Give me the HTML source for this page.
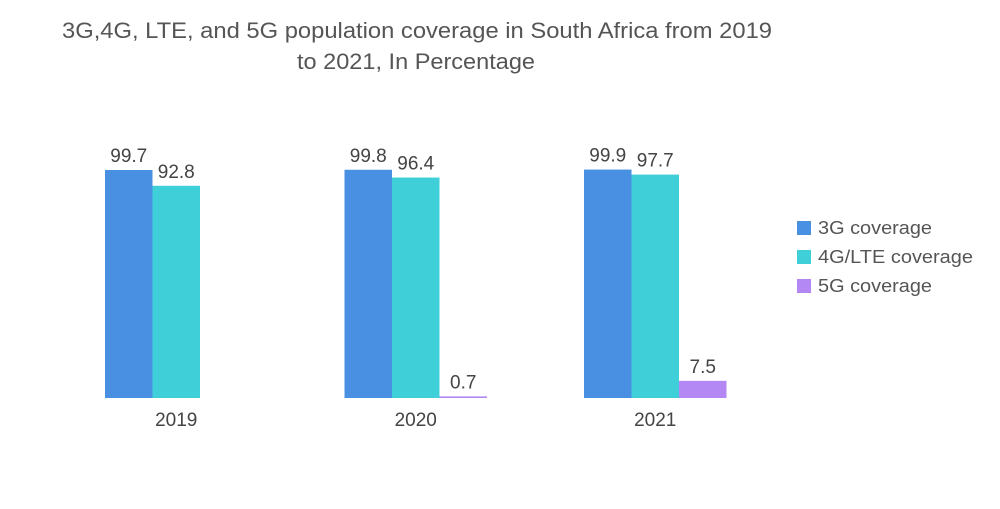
<!DOCTYPE html>
<html><head><meta charset="utf-8"><style>
body{margin:0;background:#fff;width:1000px;height:504px;overflow:hidden;font-family:"Liberation Sans",sans-serif;}
text{font-family:"Liberation Sans",sans-serif;}
</style></head><body>
<svg id="chart" width="1000" height="504" xmlns="http://www.w3.org/2000/svg">
<text x="62" y="38" font-size="22" fill="#555" textLength="710" lengthAdjust="spacingAndGlyphs">3G,4G, LTE, and 5G population coverage in South Africa from 2019</text>
<text x="297" y="69" font-size="22" fill="#555" textLength="238" lengthAdjust="spacingAndGlyphs">to 2021, In Percentage</text>
<g id="bars"></g>
<g>
<rect x="797" y="221" width="14" height="14" fill="#4a90e2"/>
<text x="818" y="234" font-size="18" fill="#555" textLength="114" lengthAdjust="spacingAndGlyphs">3G coverage</text>
<rect x="797" y="250" width="14" height="14" fill="#3ecfd8"/>
<text x="818" y="263" font-size="18" fill="#555" textLength="155" lengthAdjust="spacingAndGlyphs">4G/LTE coverage</text>
<rect x="797" y="279" width="14" height="14" fill="#b388f5"/>
<text x="818" y="292" font-size="18" fill="#555" textLength="114" lengthAdjust="spacingAndGlyphs">5G coverage</text>
</g>
</svg>
<script>
const categories = ["2019", "2020", "2021"];
const coverage3G = [99.7, 99.8, 99.9];
const coverage4G = [92.8, 96.4, 97.7];
const coverage5G = [null, 0.7, 7.5];
const series = [coverage3G, coverage4G, coverage5G];
const seriesNames = ["3g", "4g", "5g"];
const colors = ["#4a90e2", "#3ecfd8", "#b388f5"];
const NS = "http://www.w3.org/2000/svg";
const baseY = 398, pxPerUnit = 228 / 99.7;
const y = v => baseY - v * pxPerUnit;
const groupX = i => 105 + i * 239.5;
const barW = 47.5;
const g = document.getElementById("bars");
categories.forEach((c, i) => {
  series.forEach((s, j) => {
    const v = s[i];
    if (v === null) return;
    const x = groupX(i) + j * barW;
    const r = document.createElementNS(NS, "rect");
    
    
    const h = Math.max(v * pxPerUnit, 1.5);
    r.setAttribute("x", x); r.setAttribute("y", baseY - h);
    r.setAttribute("width", barW); r.setAttribute("height", h);
    r.setAttribute("fill", colors[j]);
    g.appendChild(r);
    const t = document.createElementNS(NS, "text");
    
    
    t.setAttribute("x", x + barW / 2); t.setAttribute("y", baseY - h - 8);
    t.setAttribute("text-anchor", "middle"); t.setAttribute("font-size", "19"); t.setAttribute("fill", "#444");
    t.textContent = v;
    g.appendChild(t);
  });
  const t = document.createElementNS(NS, "text");
  
  
  t.setAttribute("x", groupX(i) + barW * 1.5); t.setAttribute("y", 426);
  t.setAttribute("text-anchor", "middle"); t.setAttribute("font-size", "19"); t.setAttribute("fill", "#444");
  t.textContent = c;
  g.appendChild(t);
});
</script>
</body></html>
